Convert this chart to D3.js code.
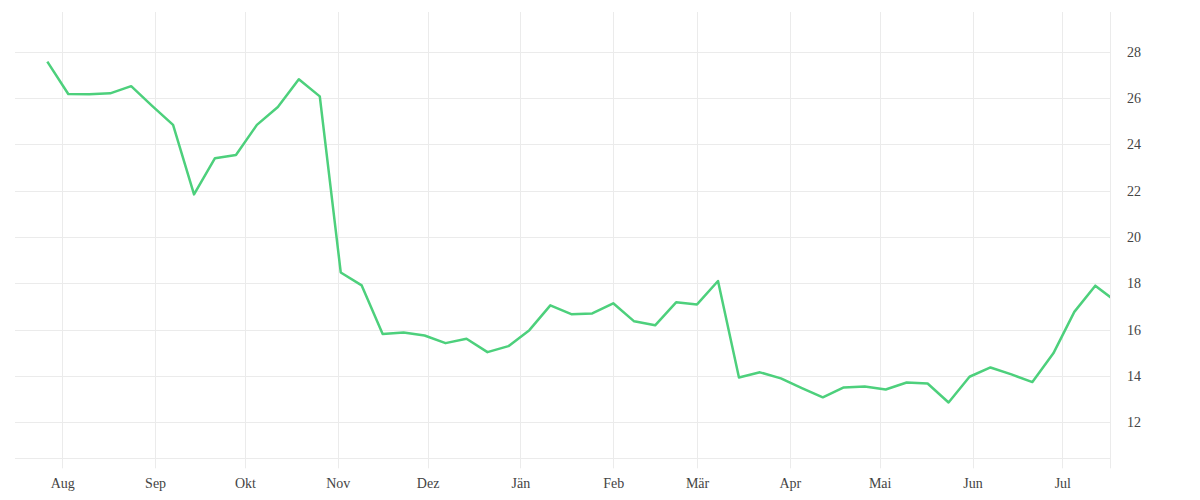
<!DOCTYPE html>
<html>
<head>
<meta charset="utf-8">
<script src="https://cdn.jsdelivr.net/npm/d3@7"></script>
<style>
  html, body { margin: 0; padding: 0; background: #ffffff; }
  svg { display: block; }
  text { font-family: "Liberation Serif", "DejaVu Serif", serif; }
</style>
</head>
<body>
<svg id="chart" width="1200" height="500"></svg>
<script>
// ---- data ----
const dates = [
  "2022-07-27","2022-08-03","2022-08-10","2022-08-17","2022-08-24","2022-08-31",
  "2022-09-07","2022-09-14","2022-09-21","2022-09-28","2022-10-05","2022-10-12",
  "2022-10-19","2022-10-26","2022-11-02","2022-11-09","2022-11-16","2022-11-23",
  "2022-11-30","2022-12-07","2022-12-14","2022-12-21","2022-12-28","2023-01-04",
  "2023-01-11","2023-01-18","2023-01-25","2023-02-01","2023-02-08","2023-02-15",
  "2023-02-22","2023-03-01","2023-03-08","2023-03-15","2023-03-22","2023-03-29",
  "2023-04-05","2023-04-12","2023-04-19","2023-04-26","2023-05-03","2023-05-10",
  "2023-05-17","2023-05-24","2023-05-31","2023-06-07","2023-06-14","2023-06-21",
  "2023-06-28","2023-07-05","2023-07-12","2023-07-19"
];
const values = [
  27.57, 26.17, 26.16, 26.20, 26.51, 25.66,
  24.84, 21.84, 23.40, 23.54, 24.84, 25.61,
  26.81, 26.07, 18.47, 17.91, 15.81, 15.88,
  15.75, 15.42, 15.61, 15.03, 15.29, 15.98,
  17.05, 16.67, 16.70, 17.14, 16.36, 16.19,
  17.18, 17.09, 18.10, 13.94, 14.16, 13.90,
  13.48, 13.08, 13.51, 13.55, 13.42, 13.72,
  13.68, 12.86, 13.97, 14.37, 14.07, 13.74,
  14.98, 16.77, 17.90, 17.21
];
const monthLabels = ["Jän","Feb","Mär","Apr","Mai","Jun","Jul","Aug","Sep","Okt","Nov","Dez"];
const yTicks = [12, 14, 16, 18, 20, 22, 24, 26, 28];
const xDomain = ["2022-07-16T05:00", "2023-07-16T22:00"];
const yDomain = [10.45, 29.71];

(function () {
  // ---- layout ----
  const mLeft = 15, mRight = 1110, mTop = 12, mBottom = 458.3, tickLen = 10;
  const gridColor = "#ebebeb";
  const textColor = "#444";
  const lineColor = "#4dd07c";

  const parse = d3.timeParse("%Y-%m-%d");
  const parseT = d3.timeParse("%Y-%m-%dT%H:%M");
  const data = dates.map((d, i) => ({ date: parse(d), value: values[i] }));

  const x = d3.scaleTime().domain(xDomain.map(parseT)).range([mLeft, mRight]);
  const y = d3.scaleLinear().domain(yDomain).range([mBottom, mTop]);

  const svg = d3.select("#chart");

  // horizontal grid lines
  svg.append("g").selectAll("line").data(yTicks.concat([yDomain[0]])).join("line")
    .attr("x1", mLeft).attr("x2", mRight)
    .attr("y1", d => Math.round(y(d)) + 0.5).attr("y2", d => Math.round(y(d)) + 0.5)
    .attr("stroke", gridColor).attr("stroke-width", 1);

  // vertical grid lines (months) + right border
  const monthTicks = x.ticks(d3.timeMonth.every(1));
  const vg = svg.append("g");
  vg.selectAll("line").data(monthTicks).join("line")
    .attr("x1", d => Math.round(x(d)) + 0.5).attr("x2", d => Math.round(x(d)) + 0.5)
    .attr("y1", mTop).attr("y2", mBottom + tickLen)
    .attr("stroke", gridColor).attr("stroke-width", 1);
  svg.append("line")
    .attr("x1", mRight + 0.5).attr("x2", mRight + 0.5)
    .attr("y1", mTop).attr("y2", mBottom + tickLen)
    .attr("stroke", gridColor).attr("stroke-width", 1);

  // x axis labels
  const xAxis = d3.axisBottom(x)
    .tickValues(monthTicks)
    .tickSize(0)
    .tickPadding(0)
    .tickFormat(d => monthLabels[d.getMonth()]);
  const gx = svg.append("g").attr("transform", `translate(0,${mBottom + 20})`).call(xAxis);
  gx.select(".domain").remove();
  gx.selectAll("text").attr("font-size", 14).attr("fill", textColor)
    .attr("font-family", "Liberation Serif, DejaVu Serif, serif");

  // y axis labels (right)
  const yAxis = d3.axisRight(y).tickValues(yTicks).tickSize(0).tickPadding(0);
  const gy = svg.append("g").attr("transform", `translate(${mRight + 17},0)`).call(yAxis);
  gy.select(".domain").remove();
  gy.selectAll("text").attr("font-size", 14).attr("fill", textColor)
    .attr("font-family", "Liberation Serif, DejaVu Serif, serif");

  // clip
  svg.append("defs").append("clipPath").attr("id", "plotClip")
    .append("rect").attr("x", mLeft).attr("y", mTop - 5)
    .attr("width", mRight - mLeft).attr("height", mBottom - mTop + 10);

  // line
  const line = d3.line().x(d => x(d.date)).y(d => y(d.value));
  svg.append("path")
    .datum(data)
    .attr("clip-path", "url(#plotClip)")
    .attr("fill", "none")
    .attr("stroke", lineColor)
    .attr("stroke-width", 2.5)
    .attr("stroke-linejoin", "round")
    .attr("d", line);
})();
</script>
</body>
</html>
